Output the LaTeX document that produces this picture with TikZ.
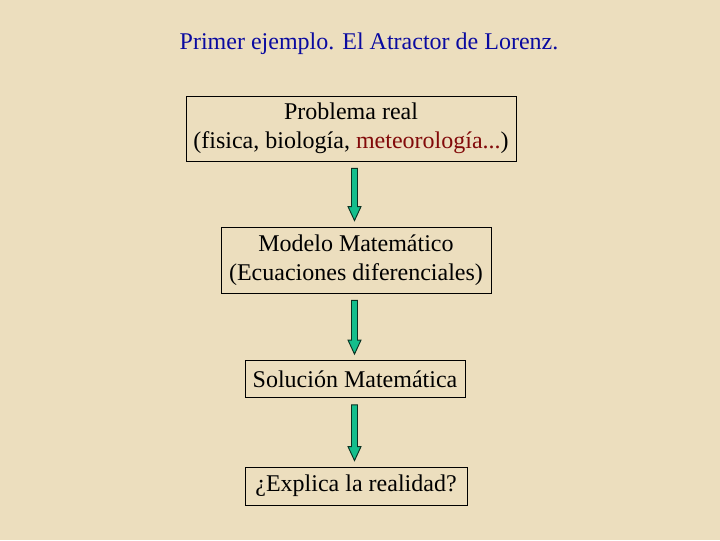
\documentclass[tikz,border=0pt]{standalone}
\usepackage{fontspec}
\setmainfont{Liberation Serif}
\usetikzlibrary{calc,positioning}
\definecolor{lorFondo}{RGB}{236,222,190}
\definecolor{lorAzul}{RGB}{10,10,160}
\definecolor{lorRojo}{RGB}{130,10,10}
\definecolor{lorVerde}{RGB}{20,190,140}
\definecolor{lorOscuro}{RGB}{10,50,35}
\newcommand{\lormark}[1]{\textcolor{lorRojo}{#1}}
\newcommand{\flecha}[2]{%
  \coordinate (fs) at ($(#1.south -| eje)+(0,7)$);
  \coordinate (ft) at ($(#2.north -| eje)+(0,-6)$);
  \draw[bloque] ($(fs)+(-3,0)$) -- ($(ft)+(-3,-14)$) -- ($(ft)+(-6.5,-14)$)
    -- (ft) -- ($(ft)+(6.5,-14)$) -- ($(ft)+(3,-14)$) -- ($(fs)+(3,0)$) -- cycle;}

\begin{document}
\begin{tikzpicture}[x=0.75pt, y=-0.75pt,
    caja/.style={rectangle, draw=black, line width=0.6pt, align=center,
                 inner sep=0pt, font=\fontsize{18}{22}\selectfont},
    bloque/.style={fill=lorVerde, draw=lorOscuro, line width=0.7pt, line join=miter}
  ]
  \fill[lorFondo] (0,0) rectangle (720,540);
  \useasboundingbox (0,0) rectangle (720,540);
  \coordinate (eje) at (354.5,0);

  \node[font=\fontsize{18}{22}\selectfont, text=lorAzul] (titulo) at (369,44)
    {Primer ejemplo. El Atractor de Lorenz.};

  \node[caja, minimum width=247.5pt, minimum height=48.75pt] (real) at (351,128.5)
    {Problema real\\(fisica, biología, \lormark{meteorología...})};
  \node[caja, minimum width=202.5pt, minimum height=49.5pt] (modelo) at (356,260)
    {Modelo Matemático\\(Ecuaciones diferenciales)};
  \node[caja, minimum width=165pt, minimum height=27.75pt] (solucion) at (355,379)
    {Solución Matemática};
  \node[caja, minimum width=166.5pt, minimum height=28.5pt] (explica) at (356,486)
    {¿Explica la realidad?};

  \flecha{real}{modelo}
  \flecha{modelo}{solucion}
  \flecha{solucion}{explica}
\end{tikzpicture}
\end{document}
